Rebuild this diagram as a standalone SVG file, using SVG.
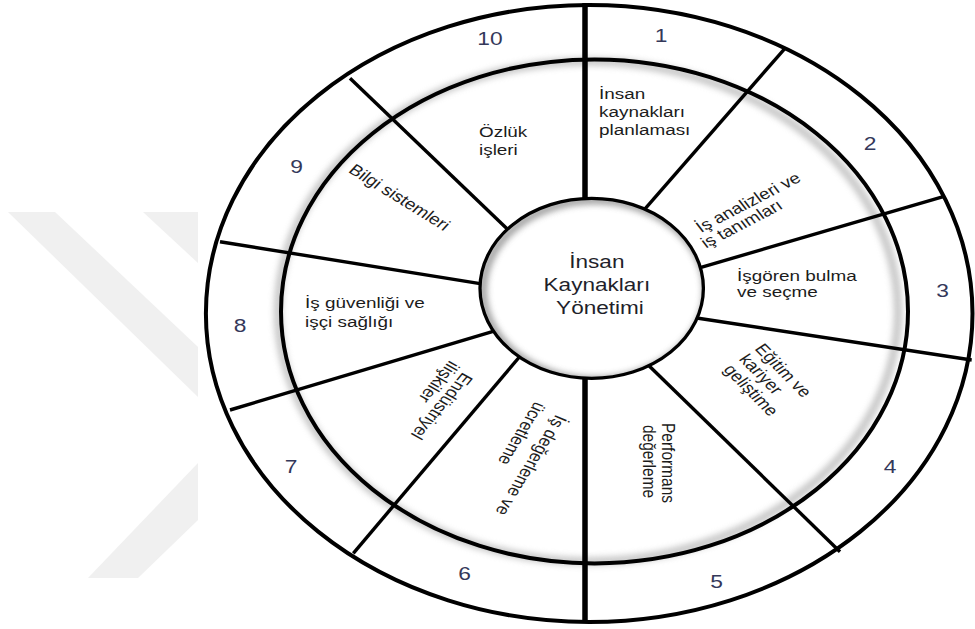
<svg xmlns="http://www.w3.org/2000/svg" width="975" height="629" viewBox="0 0 975 629">
  <defs>
    <style>
      .ring{fill:none;stroke:#000;stroke-width:4}
      .spoke{stroke:#000;stroke-width:3.4;fill:none}
      .spoke-v{stroke:#000;stroke-width:5.5;fill:none}
      .num{font-family:"Liberation Sans",Arial,sans-serif;font-size:19px;fill:#34385a;text-anchor:middle}
      .lbl{font-family:"Liberation Sans",Arial,sans-serif;font-size:15.5px;fill:#1c1c1c}
      .hub-t{font-family:"Liberation Sans",Arial,sans-serif;font-size:18.5px;fill:#1f1f2b;text-anchor:middle}
      .wm{fill:#f0f0f0}
    </style>
    <filter id="soft" x="-10%" y="-10%" width="120%" height="120%">
      <feGaussianBlur stdDeviation="3"/>
    </filter>
    <clipPath id="hubClip">
      <ellipse cx="591.7" cy="288.3" rx="111.7" ry="90"/>
    </clipPath>
  </defs>

  <rect width="975" height="629" fill="#fff"/>

  <!-- faint background mark on the left -->
  <g id="backdrop-mark">
    <polygon class="wm" points="8,212 55,212 198,347 198,397"/>
    <polygon class="wm" points="143,212 198,212 198,263"/>
    <polygon class="wm" points="198,463 198,520 138,578 88,578"/>
  </g>

  <!-- soft shadow along the inner ring, falling to the left -->
  <ellipse cx="588" cy="311.4" rx="310" ry="250" fill="none" stroke="#a0a0a0" stroke-width="8" filter="url(#soft)" opacity="0.6"/>

  <!-- dividers between the ten areas -->
  <g id="connectors">
    <line class="spoke-v" x1="585" y1="3" x2="585" y2="202"/>
    <line class="spoke" x1="645" y1="208.8" x2="785" y2="48.3"/>
    <line class="spoke" x1="698.5" y1="268.1" x2="943.3" y2="196.7"/>
    <line class="spoke" x1="693.4" y1="317.5" x2="971.7" y2="360"/>
    <line class="spoke" x1="646.4" y1="363.2" x2="840" y2="551.7"/>
    <line class="spoke-v" x1="585" y1="374" x2="585" y2="623"/>
    <line class="spoke" x1="521.5" y1="354.5" x2="353.3" y2="553.3"/>
    <line class="spoke" x1="496.5" y1="330.3" x2="230" y2="410"/>
    <line class="spoke" x1="483.2" y1="284.1" x2="220" y2="241.7"/>
    <line class="spoke" x1="508.6" y1="230.2" x2="350" y2="78.3"/>
  </g>

  <!-- rings -->
  <ellipse class="ring" cx="594.5" cy="311.4" rx="313.5" ry="252"/>
  <ellipse class="ring" cx="589.2" cy="313.5" rx="383.3" ry="308.5"/>

  <!-- hub -->
  <g id="hub">
    <ellipse cx="591.7" cy="288.3" rx="111.7" ry="90" fill="#fff"/>
    <g clip-path="url(#hubClip)">
      <ellipse cx="594.7" cy="290.3" rx="111.7" ry="90" fill="none" stroke="#8a8a8a" stroke-width="8" filter="url(#soft)" opacity="0.8"/>
    </g>
    <ellipse cx="591.7" cy="288.3" rx="111.7" ry="90" fill="none" stroke="#000" stroke-width="3.3"/>
    <text class="hub-t" transform="translate(600,268) scale(1.22,1)">
      <tspan x="0" y="0">İnsan</tspan>
      <tspan x="0" y="23.5">Kaynakları</tspan>
      <tspan x="0" y="46">Yönetimi</tspan>
    </text>
  </g>

  <!-- 1 -->
  <g id="area-1">
    <text class="num" transform="translate(661,42.3) scale(1.2,1)">1</text>
    <text class="lbl" transform="translate(599,99) scale(1.22,1)">
      <tspan x="0" y="0">İnsan</tspan>
      <tspan x="0" y="18">kaynakları</tspan>
      <tspan x="0" y="36">planlaması</tspan>
    </text>
  </g>

  <!-- 2 -->
  <g id="area-2">
    <text class="num" transform="translate(870,150) scale(1.2,1)">2</text>
    <text class="lbl" transform="translate(701,233) scale(1.22,1) rotate(-32.3)">İş analizleri ve</text>
    <text class="lbl" transform="translate(706,248.5) scale(1.22,1) rotate(-32.3)">iş tanımları</text>
  </g>

  <!-- 3 -->
  <g id="area-3">
    <text class="num" transform="translate(942.5,296.7) scale(1.2,1)">3</text>
    <text class="lbl" transform="translate(737,280.7) scale(1.22,1)">
      <tspan x="0" y="0">İşgören bulma</tspan>
      <tspan x="0" y="16">ve seçme</tspan>
    </text>
  </g>

  <!-- 4 -->
  <g id="area-4">
    <text class="num" transform="translate(890,472.7) scale(1.2,1)">4</text>
    <text class="lbl" transform="translate(754,349) scale(1.22,1) rotate(51)">
      <tspan x="0" y="0">Eğitim ve</tspan>
      <tspan x="0" y="16.5">kariyer</tspan>
      <tspan x="0" y="33">geliştime</tspan>
    </text>
  </g>

  <!-- 5 -->
  <g id="area-5">
    <text class="num" transform="translate(716.7,588) scale(1.2,1)">5</text>
    <text class="lbl" transform="translate(662,423) scale(1.22,1) rotate(90)">
      <tspan x="0" y="0">Performans</tspan>
      <tspan x="2" y="15.6">değerleme</tspan>
    </text>
  </g>

  <!-- 6 -->
  <g id="area-6">
    <text class="num" transform="translate(464.5,580) scale(1.2,1)">6</text>
    <text class="lbl" transform="translate(556,414) scale(1.22,1) rotate(117)">İş değerleme ve</text>
    <text class="lbl" transform="translate(535,401) scale(1.22,1) rotate(117)">ücretleme</text>
  </g>

  <!-- 7 -->
  <g id="area-7">
    <text class="num" transform="translate(291,473) scale(1.2,1)">7</text>
    <text class="lbl" transform="translate(463,371.8) scale(1.22,1) rotate(124.5)">Endüstriyel</text>
    <text class="lbl" transform="translate(449.7,360) scale(1.22,1) rotate(124.5)">ilişkiler</text>
  </g>

  <!-- 8 -->
  <g id="area-8">
    <text class="num" transform="translate(240,331.7) scale(1.2,1)">8</text>
    <text class="lbl" transform="translate(305,308) scale(1.22,1)">
      <tspan x="0" y="0">İş güvenliği ve</tspan>
      <tspan x="0" y="19">işçi sağlığı</tspan>
    </text>
  </g>

  <!-- 9 -->
  <g id="area-9">
    <text class="num" transform="translate(296.7,172.7) scale(1.2,1)">9</text>
    <text class="lbl" transform="translate(347.4,171.7) scale(1.22,1) rotate(37)">Bilgi sistemleri</text>
  </g>

  <!-- 10 -->
  <g id="area-10">
    <text class="num" transform="translate(490,45) scale(1.2,1)">10</text>
    <text class="lbl" transform="translate(479,137) scale(1.22,1)">
      <tspan x="0" y="0">Özlük</tspan>
      <tspan x="0" y="18">işleri</tspan>
    </text>
  </g>
</svg>
